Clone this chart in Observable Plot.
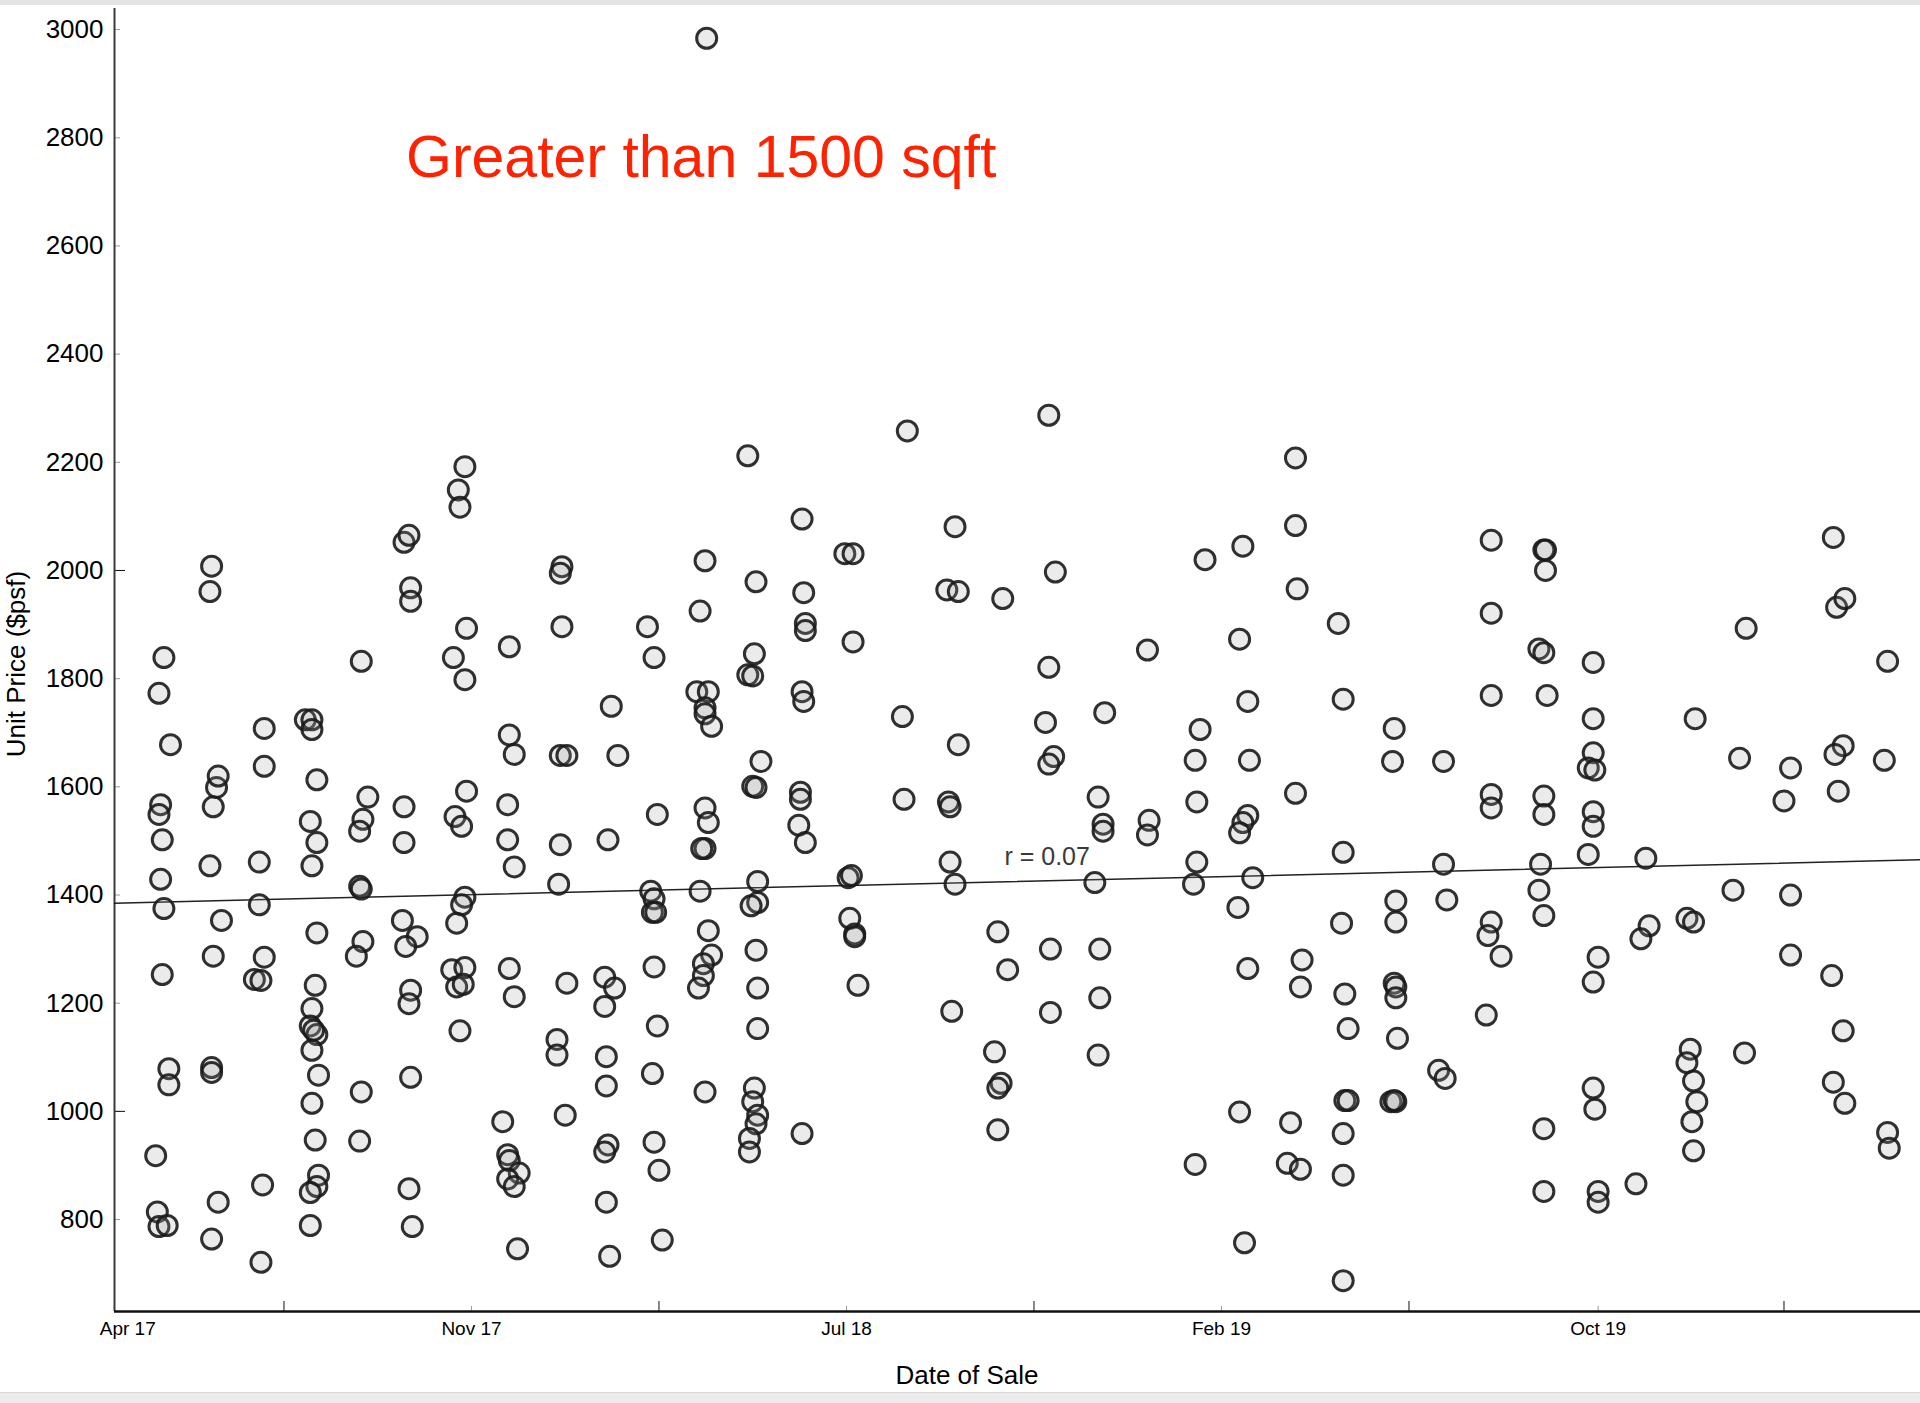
<!DOCTYPE html>
<html>
<head>
<meta charset="utf-8">
<script src="https://cdn.jsdelivr.net/npm/d3@7"></script>
<script src="https://cdn.jsdelivr.net/npm/@observablehq/plot@0.6"></script>
<style>
  html, body { margin: 0; padding: 0; background: #fff; }
  body { width: 1920px; height: 1403px; position: relative; overflow: hidden; font-family: "Liberation Sans", Arial, Helvetica, sans-serif; }
  #chart { position: absolute; left: 0; top: 0; }
  .topbar { position: absolute; left: 0; top: 0; width: 1920px; height: 5px; background: #e4e4e4; }
  .bottombar { position: absolute; left: 0; top: 1392px; width: 1920px; height: 11px; background: #ececec; border-top: 1px solid #d6d6d6; }
  .title { position: absolute; left: 406px; top: 128px; font-size: 59px; line-height: 59px; color: #ff2200; white-space: nowrap; }
  .xlabel { position: absolute; left: 967px; top: 1375px; transform: translate(-50%, -50%); font-size: 26px; line-height: 26px; color: #000; white-space: nowrap; }
  .ylabel { position: absolute; left: 16px; top: 664px; transform: translate(-50%, -50%) rotate(-90deg); font-size: 26px; line-height: 26px; color: #000; white-space: nowrap; }
</style>
</head>
<body>
<div id="chart"></div>
<div class="topbar"></div>
<div class="bottombar"></div>
<div class="title">Greater than 1500 sqft</div>
<div class="xlabel">Date of Sale</div>
<div class="ylabel">Unit Price ($psf)</div>
<script>
// ---- data ----
// day of sale, counted in days after 1 Apr 2017
const saleDay = [
36,37,38,43,38,39,38,40,39,41,40,41,45,44,44,
70,69,70,74,69,71,73,74,76,71,70,70,
96,100,99,99,102,102,102,101,100,
127,131,131,134,130,134,131,134,133,131,130,134,132,131,135,131,133,135,134,130,130,
161,165,162,160,160,161,162,158,161,160,
187,190,191,191,187,187,186,195,188,191,190,191,190,192,
224,220,221,225,217,224,225,218,222,224,222,219,216,224,219,223,221,
251,251,254,250,250,254,251,254,247,250,251,257,250,254,256,
283,282,283,282,286,282,281,286,280,280,285,
313,317,311,309,315,309,310,310,311,309,310,312,
335,339,341,337,339,338,340,339,341,338,339,342,344,
371,367,370,365,372,370,370,374,370,372,370,368,367,372,374,369,369,366,370,
396,401,400,396,399,404,399,401,402,402,398,401,402,402,400,399,402,401,397,397,
429,430,431,431,429,430,428,428,427,431,429,
455,460,460,457,459,458,461,461,463,
493,490,491,
522,517,524,524,518,519,519,522,520,
551,548,554,546,550,548,548,
579,583,579,577,582,579,580,580,
613,609,612,612,607,610,610,609,
639,640,639,
674,671,668,669,669,667,668,
697,695,700,701,700,697,695,703,694,700,695,698,
729,729,730,729,733,732,726,724,732,
755,758,758,757,759,761,759,761,758,758,758,
789,788,790,790,789,790,790,791,787,790,789,
819,819,821,816,820,
848,848,848,848,848,848,846,854,845,
880,881,881,877,880,882,880,880,878,877,880,880,880,
910,910,910,907,911,910,910,907,913,910,910,911,913,913,
942,944,939,936,
972,967,971,969,967,971,973,970,971,
1003,999,995,1002,
1030,1026,1030,1030,
1056,1058,1063,1062,1057,1059,1055,1062,1056,1063,
1089,1087,1089,1090
];
// unit price, $ per sq ft
const unitPrice = [
918,814,787,789,1773,1567,1549,1502,1429,1375,1253,1839,1678,1079,1049,
2008,1961,764,832,1454,1563,1599,1620,1353,1287,1081,1072,
1244,1242,1461,1382,1708,1638,1285,864,721,
1724,1724,1706,1613,1536,1497,1454,1330,1233,1190,1158,1142,1150,1113,1067,1015,947,882,861,850,789,
1832,1581,1540,1518,1416,1411,1314,1287,1036,945,
2052,2065,1968,1943,1563,1497,1353,1323,1305,1224,1199,1063,857,787,
2192,2149,2117,1893,1839,1798,1592,1545,1527,1396,1382,1348,1262,1266,1230,1235,1149,
1859,1696,1660,1567,1502,1452,1264,1212,981,920,909,886,875,861,746,
2007,1995,1896,1658,1658,1493,1420,1237,1133,1104,993,
1749,1658,1502,1248,1228,1194,1101,1047,938,925,832,732,
1896,1839,1549,1407,1393,1368,1368,1267,1158,1070,943,891,762,
2984,1925,2018,1776,1776,1746,1735,1712,1561,1534,1486,1486,1407,1334,1289,1273,1251,1228,1036,
2212,1979,1846,1807,1805,1647,1601,1599,1425,1386,1380,1298,1228,1153,1043,1018,993,977,950,925,
2095,1959,1902,1889,1776,1758,1590,1577,1529,1497,959,
2031,2031,1868,1432,1436,1357,1328,1323,1233,
2258,1730,1577,
2081,1964,1961,1678,1572,1563,1461,1420,1185,
1948,1332,1262,1110,1052,1043,966,
2287,1997,1821,1719,1656,1642,1300,1183,
1737,1581,1531,1518,1423,1300,1210,1104,
1853,1538,1511,
2020,1706,1649,1572,1461,1420,902,
2045,1873,1758,1649,1547,1534,1515,1432,1377,1264,999,757,
2208,2083,1966,1588,1280,1230,979,904,893,
1902,1762,1479,1348,1217,1153,1020,1020,959,882,687,
1708,1647,1389,1350,1237,1230,1210,1135,1018,1018,1020,
1647,1457,1391,1076,1061,
2056,1921,1769,1586,1561,1350,1325,1287,1178,
2038,2038,2000,1855,1848,1769,1583,1549,1457,1409,1362,968,852,
1830,1726,1663,1635,1631,1554,1527,1475,1285,1239,1043,1004,852,832,
1468,1343,1319,866,
1726,1357,1350,1115,1090,1056,1018,981,927,
1893,1653,1409,1108,
1635,1574,1400,1289,
2061,1932,1948,1676,1660,1592,1251,1149,1054,1015,
1832,1649,961,932
];

// axis ticks
const xLabelDates = ["2017-04-20", "2017-11-15", "2018-07-01", "2019-02-14", "2019-10-01"];
const xLabelText  = ["Apr 17", "Nov 17", "Jul 18", "Feb 19", "Oct 19"];
const xMinorTickDates = ["2017-11-15", "2018-07-01", "2019-02-14", "2019-10-01"];
const xMajorTickDates = ["2017-07-24", "2018-03-09", "2018-10-23", "2019-06-08", "2020-01-22"];
const priceTicks = [800, 1000, 1200, 1400, 1600, 1800, 2000, 2200, 2400, 2600, 2800, 3000];
const priceMajorTicks = [1000, 2000];

// trend line (as drawn) and its annotation
const trendDates = ["2017-04-11T23:00:00Z", "2020-04-14T00:00:00Z"];
const trendPrice = [1385, 1465];
const rText = "r = 0.07";
const rDate = "2018-10-31";
const rPrice = 1470;

// ---- build ----
const origin = new Date(Date.UTC(2017, 3, 1));
const sales = saleDay.map((d, i) => ({ date: d3.utcDay.offset(origin, d), price: unitPrice[i] }))
  .filter(d => d.price != null);
const toDate = s => new Date(s.length > 10 ? s : s + "T00:00:00Z");
const labelMap = new Map(xLabelDates.map((s, i) => [+toDate(s), xLabelText[i]]));
const trend = trendDates.map((s, i) => ({ date: toDate(s), price: trendPrice[i] }));

const W = 1920, H = 1392;
const mL = 114, mR = 0, mT = 8, mB = 81;
const innerW = W - mL - mR, innerH = H - mT - mB;
const xDomain = [toDate(trendDates[0]), toDate(trendDates[1])];
const yDomain = [630, 3039];

const chart = Plot.plot({
  width: W,
  height: H,
  marginLeft: mL,
  marginRight: mR,
  marginTop: mT,
  marginBottom: mB,
  style: { fontFamily: "Liberation Sans, Arial, Helvetica, sans-serif", background: "transparent", color: "#000", overflow: "visible" },
  x: { type: "utc", domain: xDomain },
  y: { domain: yDomain },
  marks: [
    // y tick marks (inside)
    Plot.ruleY(priceTicks, { y: d => d, stroke: "#9a9a9a", strokeWidth: 1, insetRight: innerW - 6 }),
    Plot.ruleY(priceMajorTicks, { y: d => d, stroke: "#111", strokeWidth: 1, insetRight: innerW - 11 }),
    // x tick marks (inside)
    Plot.ruleX(xMinorTickDates.map(toDate), { x: d => d, stroke: "#9a9a9a", strokeWidth: 1, insetTop: innerH - 5 }),
    Plot.ruleX(xMajorTickDates.map(toDate), { x: d => d, stroke: "#111", strokeWidth: 1, insetTop: innerH - 10 }),
    // axis lines
    Plot.ruleX([xDomain[0]], { x: d => d, stroke: "#3a3a3a", strokeWidth: 2 }),
    Plot.ruleY([yDomain[0]], { y: d => d, stroke: "#111", strokeWidth: 2.5 }),
    // tick labels
    Plot.axisY({ ticks: priceTicks, tickSize: 0, tickPadding: 11, fontSize: 26, label: null, tickFormat: d => String(d) }),
    Plot.axisX({ ticks: xLabelDates.map(toDate), tickSize: 0, tickPadding: 10, fontSize: 19, label: null, tickFormat: d => labelMap.get(+d) }),
    // trend line
    Plot.line(trend, { x: "date", y: "price", stroke: "#222", strokeWidth: 1.5 }),
    // sales
    Plot.dot(sales, { x: "date", y: "price", r: 10, fill: "#999", fillOpacity: 0.2, stroke: "#1a1a1a", strokeWidth: 3, strokeOpacity: 0.9 }),
    // correlation annotation
    Plot.text([{ date: toDate(rDate), price: rPrice, label: rText }], { x: "date", y: "price", text: "label", fontSize: 25, fill: "#3a3a3a", textAnchor: "middle", lineAnchor: "middle" })
  ]
});
document.getElementById("chart").appendChild(chart);
</script>
</body>
</html>
